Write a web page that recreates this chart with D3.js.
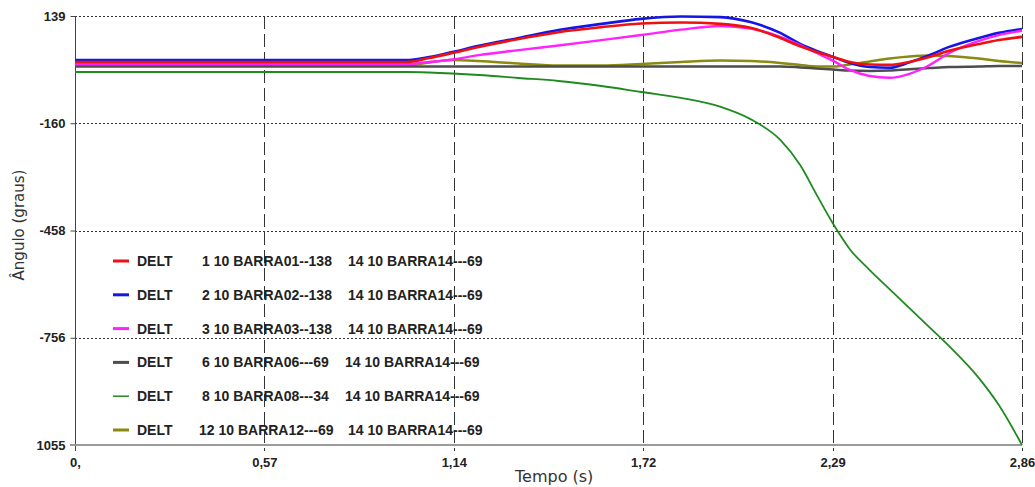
<!DOCTYPE html>
<html>
<head>
<meta charset="utf-8">
<script src="https://cdn.jsdelivr.net/npm/d3@7"></script>
<style>
  html, body { margin: 0; padding: 0; background: #fff; }
  svg { display: block; }
</style>
</head>
<body>
<svg id="chart" width="1035" height="487"></svg>
<script>
// Sample instants (s)
const times = [0, 1.00, 1.07, 1.14, 1.22, 1.34, 1.46, 1.59, 1.71, 1.83, 1.95, 2.04, 2.13,
               2.19, 2.24, 2.29, 2.34, 2.40, 2.46, 2.52, 2.58, 2.64, 2.73, 2.79, 2.86];

// Rotor angle of each bar relative to BARRA14 (degrees)
const delt01 = [11, 11, 22, 36, 53, 75, 94, 108, 118, 121, 117, 106, 78,
                55, 39, 25, 11, 4, 3, 11, 25, 42, 61, 72, 81];
const delt02 = [16.5, 16.5, 25, 39, 56, 78, 100, 117, 131, 137.5, 136, 122, 92,
                61, 42, 25, 8, -3, -5, 10, 30, 53, 78, 92, 103];
const delt03 = [5.4, 5.4, 11, 18, 30, 44, 57, 72, 86, 101, 111, 104, 81,
                58, 36, 14, -11, -28, -33, -22, 2, 36, 70, 86, 98];
const delt06 = [-1.5, -1.5, -1.5, -1.5, -1.5, -1.5, -1.5, -1.5, -1.5, -1.5, -1.5, -1.5, -1.5,
                -4, -7, -10, -13, -14, -13, -9, -6, -3, -1.5, 0, 0];
const delt08 = [-16.9, -16.9, -18.3, -21, -25.2, -33.6, -41.9, -55.8, -72.5, -89, -114, -148, -206,
                -276, -359, -440, -510, -568, -621, -674, -727, -780, -869, -944, -1055];
const delt12 = [1.2, 1.2, 9.6, 16.5, 13.8, 6.8, 1.2, 1.2, 5.4, 11, 15.1, 13.8, 8.2,
                2.6, -1.5, -1.5, 4, 12.4, 20.7, 26.3, 29.1, 27.7, 20.7, 13.8, 8.2];

// Legend text
const seriesNames = ["1 10 BARRA01--138", "2 10 BARRA02--138", "3 10 BARRA03--138",
                     "6 10 BARRA06---69", "8 10 BARRA08---34", "12 10 BARRA12---69"];
const refName = "14 10 BARRA14---69";
const seriesColors = ["#ee1111", "#1515e6", "#ff22ff", "#4d4d4d", "#1f8a1f", "#8a8a10"];

// Axis ticks
const xTicks = [0, 0.572, 1.144, 1.716, 2.288, 2.86];
const xTickLabels = ["0,", "0,57", "1,14", "1,72", "2,29", "2,86"];
const yTicks = [139, -159.5, -458, -756.5, -1055];
const yTickLabels = ["139", "-160", "-458", "-756", "1055"];

const svg = d3.select("#chart");
const plot = { left: 75, right: 1022, top: 16, bottom: 445 };

const x = d3.scaleLinear().domain([0, 2.86]).range([plot.left, plot.right]);
const y = d3.scaleLinear().domain([-1055, 139]).range([plot.bottom, plot.top]);

// Horizontal dotted grid
svg.append("g").selectAll("line")
  .data(yTicks.slice(0, 4))
  .join("line")
  .attr("x1", plot.left).attr("x2", plot.right)
  .attr("y1", d => Math.round(y(d)) + 0.5).attr("y2", d => Math.round(y(d)) + 0.5)
  .attr("stroke", "#333").attr("stroke-width", 1)
  .attr("stroke-dasharray", "2,2");

// Vertical dashed grid
svg.append("g").selectAll("line")
  .data(xTicks.slice(1))
  .join("line")
  .attr("x1", d => Math.round(x(d)) + 0.5).attr("x2", d => Math.round(x(d)) + 0.5)
  .attr("y1", plot.top).attr("y2", plot.bottom + 6)
  .attr("stroke", "#333").attr("stroke-width", 1)
  .attr("stroke-dasharray", "13,5");

// Left axis
const yAxis = d3.axisLeft(y)
  .tickValues(yTicks)
  .tickFormat((d, i) => yTickLabels[i])
  .tickSize(5)
  .tickPadding(5);
const gy = svg.append("g").attr("transform", `translate(${plot.left + 0.5},0)`).call(yAxis);
gy.select(".domain").remove();
gy.selectAll(".tick line").attr("stroke", "#444");
gy.selectAll(".tick text")
  .attr("font-family", "Liberation Sans, Arial, sans-serif")
  .attr("font-size", 13).attr("font-weight", "bold").attr("fill", "#222");
svg.append("line")
  .attr("x1", plot.left + 0.5).attr("x2", plot.left + 0.5)
  .attr("y1", plot.top).attr("y2", plot.bottom + 6)
  .attr("stroke", "#444").attr("stroke-width", 1);

// Bottom axis
const xAxis = d3.axisBottom(x)
  .tickValues(xTicks)
  .tickFormat((d, i) => xTickLabels[i])
  .tickSize(0)
  .tickPadding(13);
const gx = svg.append("g").attr("transform", `translate(0,${plot.bottom})`).call(xAxis);
gx.select(".domain").remove();
gx.selectAll(".tick text")
  .attr("font-family", "Liberation Sans, Arial, sans-serif")
  .attr("font-size", 13).attr("font-weight", "bold").attr("fill", "#222");
svg.append("line")
  .attr("x1", plot.left - 5).attr("x2", plot.right)
  .attr("y1", plot.bottom).attr("y2", plot.bottom)
  .attr("stroke", "#9a9a9a").attr("stroke-width", 2);

// Axis titles
svg.append("text")
  .attr("x", 515).attr("y", 482)
  .attr("font-family", "DejaVu Sans, Verdana, sans-serif")
  .attr("font-size", 16).attr("fill", "#333")
  .text("Tempo (s)");
svg.append("text")
  .attr("transform", "translate(24,225) rotate(-90)")
  .attr("text-anchor", "middle")
  .attr("font-family", "DejaVu Sans, Verdana, sans-serif")
  .attr("font-size", 15).attr("fill", "#333")
  .text("Ângulo (graus)");

// Curves
const series = [
  { vals: delt08, color: seriesColors[4], w: 1.8 },
  { vals: delt12, color: seriesColors[5], w: 2.5 },
  { vals: delt06, color: seriesColors[3], w: 2.5 },
  { vals: delt02, color: seriesColors[1], w: 2.6 },
  { vals: delt03, color: seriesColors[2], w: 2.4 },
  { vals: delt01, color: seriesColors[0], w: 2.6 }
];
const line = d3.line()
  .x(d => x(d[0]))
  .y(d => y(d[1]))
  .curve(d3.curveMonotoneX);
svg.append("g").selectAll("path")
  .data(series)
  .join("path")
  .attr("d", s => line(times.map((t, i) => [t, s.vals[i]])))
  .attr("fill", "none")
  .attr("stroke", s => s.color)
  .attr("stroke-width", s => s.w)
  .attr("stroke-linejoin", "round");

// Legend
const legend = svg.append("g");
const rows = legend.selectAll("g")
  .data(seriesNames)
  .join("g")
  .attr("transform", (d, i) => `translate(0,${261 + i * 33.8})`);
rows.append("line")
  .attr("x1", 113).attr("x2", 129).attr("y1", 0).attr("y2", 0)
  .attr("stroke", (d, i) => seriesColors[i])
  .attr("stroke-width", (d, i) => i === 4 ? 1.5 : 3);
const legendFont = g => g
  .attr("font-family", "Liberation Sans, Arial, sans-serif")
  .attr("font-size", 14).attr("font-weight", "bold").attr("fill", "#222")
  .attr("dy", "0.36em");
rows.append("text").attr("x", 137).attr("y", 0).text("DELT").call(legendFont);
rows.append("text").attr("x", (d, i) => i === 5 ? 199 : 202).attr("y", 0).text(d => d).call(legendFont);
rows.append("text").attr("x", (d, i) => (i === 3 || i === 4) ? 345 : 348).attr("y", 0).text(refName).call(legendFont);
</script>
</body>
</html>
